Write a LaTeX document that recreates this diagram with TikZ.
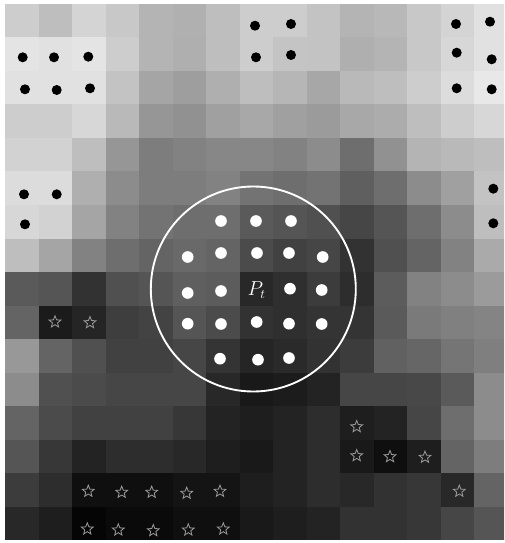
\documentclass[tikz,border=0pt]{standalone}
\usepackage{tikz}
\usetikzlibrary{shapes.geometric}

\begin{document}
\begin{tikzpicture}[x=0.03cm,y=-0.03cm,
    blackdot/.style={fill=black},
    whitedot/.style={fill=white},
    staricon/.style={star,star points=5,star point ratio=2.3,draw=black!40,
      line width=0.7pt,minimum size=0.37cm,inner sep=0pt},
    ]
\clip (0,0) rectangle (504,543);
\fill[white] (0,0) rectangle (504,543);

% image cells, gray levels 0..255
\foreach \rowvals [count=\r from 0] in {
  {205,190,212,200,180,176,190,205,205,195,180,184,200,212,225},
  {228,225,228,205,180,175,190,205,196,195,175,180,200,215,225},
  {225,225,225,195,165,158,175,190,182,167,185,190,205,220,232},
  {205,205,215,185,150,145,160,168,160,155,168,172,190,205,215},
  {210,210,190,150,125,130,135,135,130,140,110,145,180,185,190},
  {220,220,175,140,125,125,130,115,110,115,95,110,140,160,195},
  {215,210,165,130,115,110,110,90,85,80,70,85,110,140,190},
  {190,165,130,110,100,105,100,75,65,70,50,80,100,130,170},
  {90,85,50,80,85,95,92,40,47,60,45,92,130,140,155},
  {100,27,37,62,67,85,75,50,47,52,52,90,122,128,132},
  {152,100,80,65,65,70,52,37,42,50,60,97,102,117,127},
  {140,80,75,70,70,70,40,25,28,35,70,70,72,90,140},
  {100,75,65,65,65,55,35,30,35,45,30,35,70,110,140},
  {85,55,35,45,45,40,30,25,35,45,25,15,30,100,125},
  {60,45,15,15,15,20,20,30,35,45,40,50,55,40,100},
  {40,30,5,10,10,15,15,25,30,35,50,50,55,70,85}} {
  \foreach \v [count=\c from 0] in \rowvals {
    \pgfmathsetmacro\g{\v/255}
    \definecolor{cellcol}{gray}{\g}
    \fill[cellcol] ({5+33.5*\c},{4+33.5*\r}) rectangle ++(33.6,33.6);
  }
}

% black dots
\foreach \px/\py in {255/25.7,291/24,456/24,490/21.7,
    22.7/57.3,54/57.3,88.3/56.7,256/57.3,291/55,456.7/52.7,491.7/59.3,
    25/89.3,56.7/90,90/88.3,456.7/88.3,491.7/89.3,
    24/194.3,56.7/194.3,25/224.3,493.3/188.7,493.3/223.3}
  \fill[blackdot] (\px,\py) circle (0.15cm);

% window round P_t
\draw[white,line width=1.6pt] (253.3,289) circle (3.075cm);
\foreach \px/\py in {221/221,256/221,291/221,
    187.7/257,221/253,257/253,289/253,322.7/257,
    187.7/293,221/291,290/288.7,321.7/290,
    187.7/323.7,221/324,256.7/322,289/323.7,321.7/324,
    220/358.7,258/359.7,289/358}
  \fill[whitedot] (\px,\py) circle (0.175cm);
\node[text=white,font=\fontsize{16}{19}\selectfont] (pt) at (256.5,290) {$P_t$};

% stars
\foreach \px/\py [count=\i] in {55/322,90/322.7,
    356.7/426.7,356.7/455.7,390/456.7,425/457.3,459.3/491.3,
    88.3/491.3,121.7/492.3,151.7/492.3,186.7/493.3,220/491.3,
    87.3/529,118.3/530,153.3/530.7,188.3/530,223.3/529}
  \node[staricon] (s\i) at (\px,\py) {};
\end{tikzpicture}
\end{document}
